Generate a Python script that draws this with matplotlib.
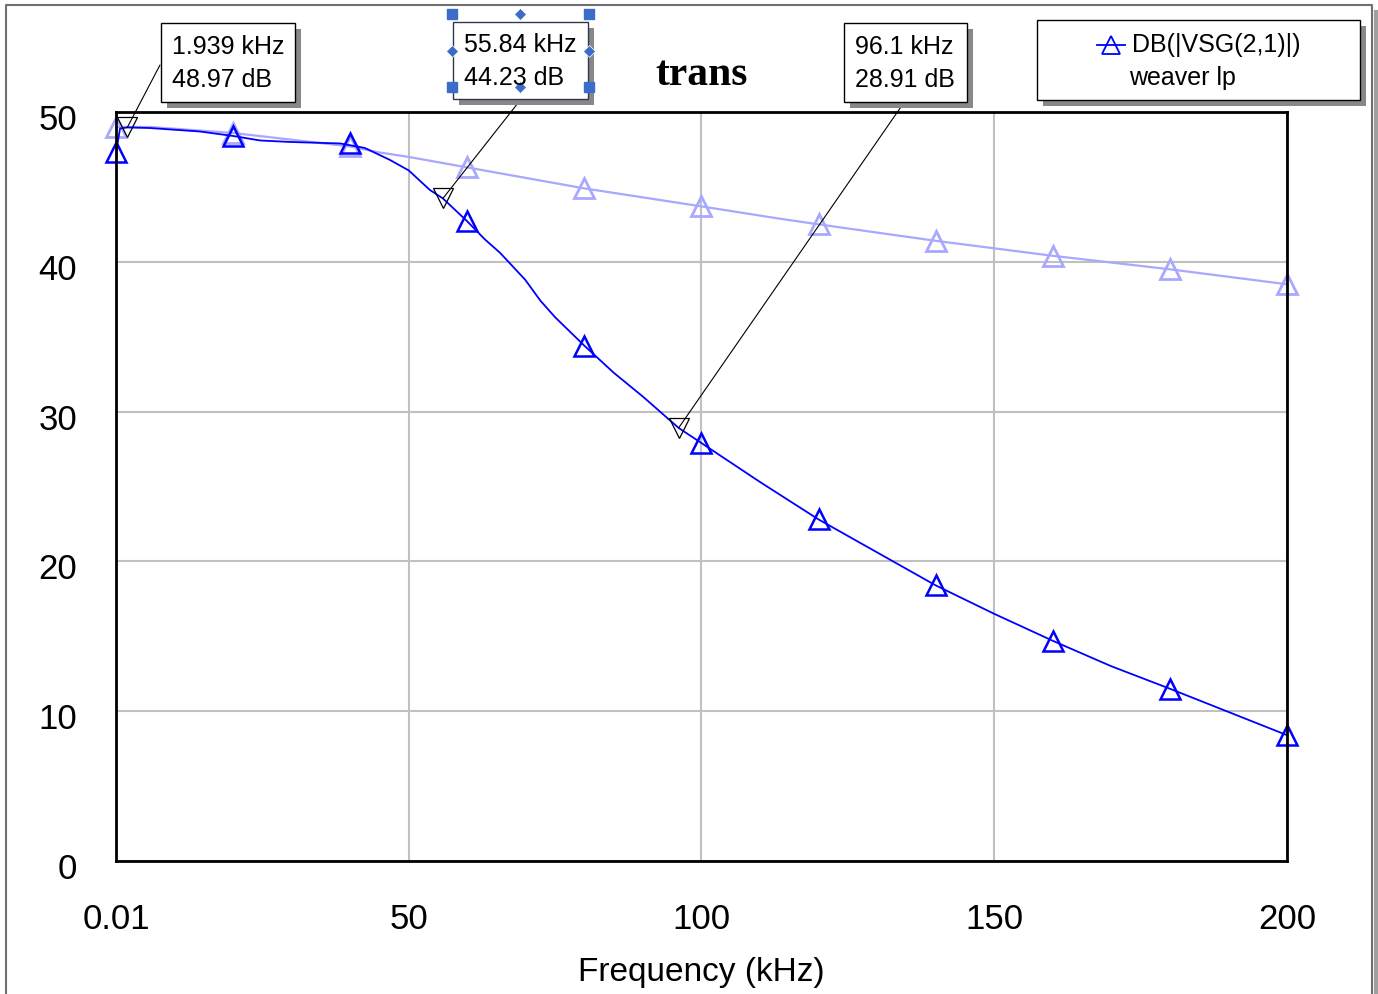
import matplotlib
matplotlib.use("Agg")
import matplotlib.pyplot as plt
import matplotlib.transforms as mtransforms
from matplotlib.patches import Rectangle, ConnectionPatch

plt.rcParams['font.family'] = ['Liberation Sans', 'DejaVu Sans']

# --- data ------------------------------------------------------------------
# dark trace: DB(|VSG(2,1)|) "weaver lp"
freq_dark = [0.01, 0.7, 1.939, 5.8, 14.3, 20, 24.6, 29.7, 38.3, 42.5, 46.8, 50, 53.6,
             55.84, 60, 63, 65.6, 69.9, 72.5, 75, 80, 85, 90, 96.1, 100, 110, 120, 130,
             140, 150, 160, 170, 180, 190, 200]
db_dark = [47.3, 48.9, 48.97, 48.93, 48.7, 48.4, 48.1, 48.0, 47.9, 47.6, 46.8, 46.1, 44.8,
           44.23, 42.7, 41.5, 40.6, 38.8, 37.4, 36.3, 34.4, 32.6, 31.0, 28.91, 27.9, 25.3,
           22.8, 20.6, 18.4, 16.5, 14.7, 13.0, 11.5, 9.95, 8.4]
# light trace
freq_light = [0.01, 5.8, 20, 40, 45, 50, 60, 80, 100, 113, 120, 140, 160, 180, 200]
db_light = [49.0, 49.0, 48.6, 47.7, 47.3, 47.0, 46.3, 44.9, 43.7, 42.9, 42.5, 41.4,
            40.4, 39.5, 38.5]

mark_f = [0.01, 20, 40, 60, 80, 100, 120, 140, 160, 180, 200]
mark_dark = [47.3, 48.4, 47.9, 42.7, 34.4, 27.9, 22.8, 18.4, 14.7, 11.5, 8.4]
mark_light = [49.0, 48.6, 47.7, 46.3, 44.9, 43.7, 42.5, 41.4, 40.4, 39.5, 38.5]

# readout markers
cur_f = [1.939, 55.84, 96.1]
cur_db = [48.97, 44.23, 28.91]
cur_text = ["1.939 kHz\n48.97 dB", "55.84 kHz\n44.23 dB", "96.1 kHz\n28.91 dB"]

xticks = [0.01, 50, 100, 150, 200]
xtick_labels = ["0.01", "50", "100", "150", "200"]
yticks = [0, 10, 20, 30, 40, 50]

BLUE = "#0000ff"
LIGHT = "#a8a8ff"
W, H = 1378, 994

fig = plt.figure(figsize=(W / 100, H / 100), dpi=100)
ax = fig.add_axes([116 / W, 1 - 861 / H, (1287 - 116) / W, (861 - 112) / H])

ax.plot(freq_light, db_light, color=LIGHT, lw=1.6)
ax.plot(mark_f, mark_light, ls="none", marker="^", ms=15, mfc="none", mec=LIGHT,
        mew=2, clip_on=False)
ax.plot(freq_dark, db_dark, color=BLUE, lw=1.3)
ax.plot(mark_f, mark_dark, ls="none", marker="^", ms=15, mfc="none", mec=BLUE,
        mew=1.8, clip_on=False)
ax.plot(cur_f, cur_db, ls="none", marker="v", ms=14, mfc="none", mec="black",
        mew=0.9, clip_on=False, zorder=4)

ax.set_xlim(0.01, 200)
ax.set_ylim(0, 50)
ax.set_xticks(xticks)
ax.set_xticklabels(xtick_labels)
ax.set_yticks(yticks)
ax.tick_params(length=0, labelsize=25)
ax.tick_params(axis="x", pad=30)
ax.tick_params(axis="y", pad=28)
shift = mtransforms.ScaledTranslation(0, -0.05, fig.dpi_scale_trans)
for lab in ax.get_yticklabels():
    lab.set_transform(lab.get_transform() + shift)
ax.grid(color="#c0c0c0", lw=1.5)
ax.set_axisbelow(True)
for s in ax.spines.values():
    s.set_linewidth(2)
ax.set_xlabel("Frequency (kHz)", fontsize=24, labelpad=15)

# --- overlay in pixel coordinates for boxes, legend, frame ------------------
ov = fig.add_axes([0, 0, 1, 1], zorder=5)
ov.set_xlim(0, W)
ov.set_ylim(H, 0)
ov.axis("off")

ov.plot([6, 6, 1372, 1372], [H, 5, 5, H], color="#707070", lw=1.5, clip_on=False)
ov.plot([1376, 1376], [12, H], color="#a0a0a0", lw=3, clip_on=False)


def shadow_box(x0, y0, x1, y1, edge="black"):
    ov.add_patch(Rectangle((x0 + 6, y0 + 6), x1 - x0, y1 - y0, fc="#888888", ec="none"))
    ov.add_patch(Rectangle((x0, y0), x1 - x0, y1 - y0, fc="white", ec=edge, lw=1))


boxes = [(161, 23, 295, 102), (453, 22, 588, 99), (844, 23, 967, 102)]
anchors = [(160, 65), (518, 103), (903, 104)]
for (x0, y0, x1, y1), (axp, ayp), txt, f, d in zip(boxes, anchors, cur_text, cur_f, cur_db):
    shadow_box(x0, y0, x1, y1, edge="#303850" if x0 == 453 else "black")
    ov.text(x0 + 11, (y0 + y1) / 2 + 1, txt, fontsize=18, va="center", ha="left",
            linespacing=1.5)
    con = ConnectionPatch(xyA=(axp, ayp), coordsA=ov.transData, xyB=(f, d),
                          coordsB=ax.transData, color="black", lw=0.8)
    fig.add_artist(con)

# selection handles on the middle readout
ov.plot([452, 589, 452, 589], [14, 14, 87, 87], ls="none", marker="s", ms=7,
        color="#3a6cc8", clip_on=False)
ov.plot([520, 452, 589, 520], [14, 51, 51, 87], ls="none", marker="D", ms=6,
        color="#3a6cc8", mec="white", mew=0.5, clip_on=False)

ov.text(702, 75, "trans", fontsize=30, fontweight="bold", ha="center", va="center",
        family="Liberation Serif")

# legend
shadow_box(1037, 20, 1360, 100)
ov.plot([1097, 1125], [45, 45], color=BLUE, lw=1.3)
ov.plot([1111], [45], marker="^", ms=13, mfc="none", mec=BLUE, mew=1.3)
ov.text(1132, 45, "DB(|VSG(2,1)|)", fontsize=18, va="center", ha="left")
ov.text(1182, 78, "weaver lp", fontsize=18, va="center", ha="center")

fig.savefig("out.png", dpi=100)
